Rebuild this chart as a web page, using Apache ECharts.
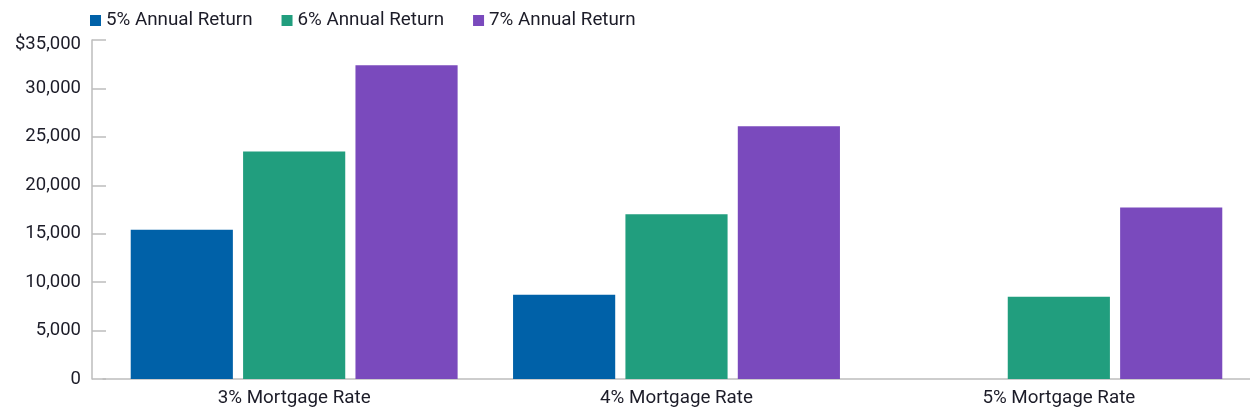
<!DOCTYPE html>
<html><head><meta charset="utf-8">
<script src="https://cdn.jsdelivr.net/npm/echarts@6/dist/echarts.min.js"></script>
<style>html,body{margin:0;padding:0;background:#fff}#c{width:1250px;height:419px}</style>
</head><body><div id="c"></div>
<script>
const categories = ['3% Mortgage Rate', '4% Mortgage Rate', '5% Mortgage Rate'];
const seriesNames = ['5% Annual Return', '6% Annual Return', '7% Annual Return'];
const return5 = [15400, 8700, null];
const return6 = [23500, 17000, 8500];
const return7 = [32400, 26100, 17700];
const colors = ['#0061a8', '#219e7e', '#7a4abd'];

const chart = echarts.init(document.getElementById('c'));
const font = 'Roboto';
const txt = '#1c1c28';
chart.setOption({
  animation: false,
  color: colors,
  textStyle: { fontFamily: font },
  legend: {
    left: 85, top: 6, icon: 'rect', itemWidth: 11, itemHeight: 11, itemGap: 29,
    textStyle: { fontSize: 18.8, color: txt, fontFamily: font }
  },
  grid: { left: 103, right: 0, top: 40, bottom: 40, containLabel: false },
  xAxis: {
    type: 'category', data: categories,
    axisLine: { lineStyle: { color: '#bdbdbd', width: 1.5 } },
    axisTick: { show: false },
    axisLabel: { fontSize: 18.8, color: txt, margin: 10, fontFamily: font }
  },
  yAxis: {
    type: 'value', min: 0, max: 35000, interval: 5000, offset: 11,
    axisLine: { show: true, lineStyle: { color: '#bdbdbd', width: 1.5 } },
    axisTick: { show: true, inside: true, length: 14, lineStyle: { color: '#bdbdbd', width: 1.5 } },
    splitLine: { show: false },
    axisLabel: {
      fontSize: 18.5, color: txt, margin: 11, fontFamily: font,
      formatter: v => v === 35000 ? '{top|$' + v.toLocaleString('en-US') + '}' : v.toLocaleString('en-US'),
      rich: { top: { fontSize: 18.5, color: txt, fontFamily: font, padding: [8, 0, 0, 0] } }
    }
  },
  series: [
    { name: seriesNames[0], type: 'bar', data: return5, barGap: '10%', barCategoryGap: '14.5%' },
    { name: seriesNames[1], type: 'bar', data: return6, barGap: '10%', barCategoryGap: '14.5%' },
    { name: seriesNames[2], type: 'bar', data: return7, barGap: '10%', barCategoryGap: '14.5%' }
  ]
});
</script></body></html>
